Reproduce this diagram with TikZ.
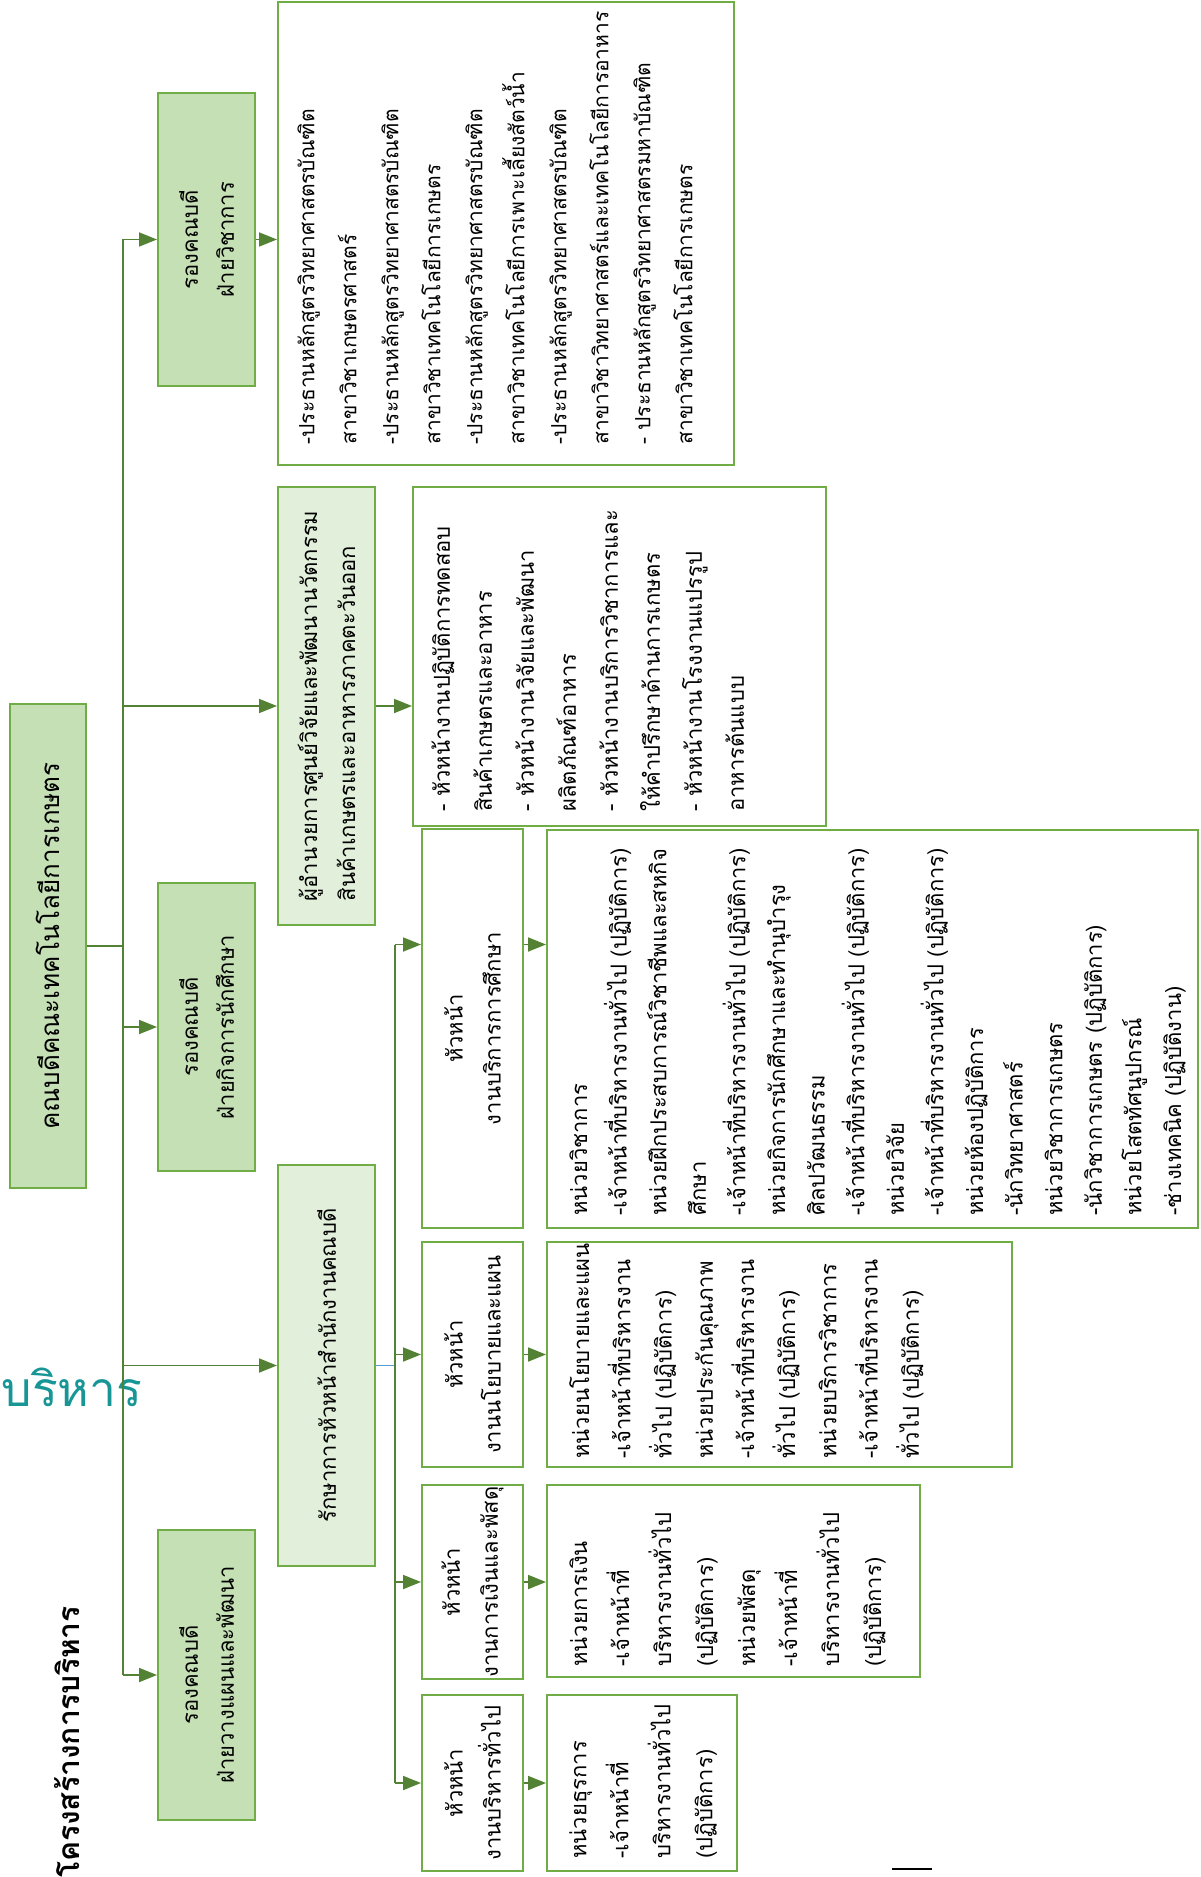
\documentclass[tikz,border=0pt]{standalone}
\usepackage{fontspec}
\setmainfont[Script=Thai]{Loma}
\usetikzlibrary{arrows.meta}
\definecolor{vert}{RGB}{112,173,71}
\definecolor{vertfonce}{RGB}{84,130,53}
\definecolor{fond}{RGB}{197,224,180}
\definecolor{fondclair}{RGB}{226,239,218}
\definecolor{sarcelle}{RGB}{24,150,150}
\definecolor{bleu}{RGB}{91,155,213}
\begin{document}
\begin{tikzpicture}[x=0.5pt,y=-0.5pt]
  \tikzstyle{cadre}=[draw=vert,line width=1pt,rotate=90,inner sep=0pt,align=center,font=\fontsize{11}{18}\selectfont]
  \tikzstyle{chef}=[cadre,fill=fond]
  \tikzstyle{bureau}=[cadre,fill=fondclair,align=left]
  \tikzstyle{liste}=[cadre,fill=white]
  \tikzstyle{texte}=[rotate=90,anchor=north west,inner sep=0pt,align=left,font=\fontsize{11}{21}\selectfont]
  \tikzstyle{trait}=[draw=vertfonce,line width=0.9pt]
  \tikzstyle{fleche}=[trait,-{Triangle[length=9pt,width=7pt]}]
  \useasboundingbox (0,0) rectangle (1200,1877);

  % titres
  \node[rotate=90,inner sep=0pt,font=\bfseries\fontsize{15}{18}\selectfont] (titre) at (67,1742) {โครงสร้างการบริหาร};
  \node[inner sep=0pt,text=sarcelle,font=\fontsize{24}{30}\selectfont] (mot) at (72,1387) {บริหาร};

  % doyen et vice-doyens
  \node[chef,minimum width=242pt,minimum height=38pt,font=\fontsize{13}{18}\selectfont] (doyen) at (48,946) {คณบดีคณะเทคโนโลยีการเกษตร};
  \node[chef,minimum width=146.5pt,minimum height=48.5pt] (vdAcad) at (206.5,239.5) {รองคณบดี\\ฝ่ายวิชาการ};
  \node[chef,minimum width=144pt,minimum height=48.5pt] (vdEtud) at (206.5,1027) {รองคณบดี\\ฝ่ายกิจการนักศึกษา};
  \node[chef,minimum width=145pt,minimum height=48.5pt] (vdPlan) at (206.5,1675) {รองคณบดี\\ฝ่ายวางแผนและพัฒนา};
  \node[bureau,minimum width=219pt,minimum height=48.5pt,font=\fontsize{11}{19}\selectfont] (centre) at (326.5,706) {ผู้อำนวยการศูนย์วิจัยและพัฒนานวัตกรรม\\สินค้าเกษตรและอาหารภาคตะวันออก};
  \node[bureau,minimum width=200.5pt,minimum height=48.5pt] (bureau) at (326.5,1365.5) {รักษาการหัวหน้าสำนักงานคณบดี};

  % chefs de service
  \node[liste,minimum width=199.5pt,minimum height=50.5pt,font=\fontsize{11}{19}\selectfont] (chefEdu) at (472.5,1028.5) {หัวหน้า\\งานบริการการศึกษา};
  \node[liste,minimum width=112.5pt,minimum height=50.5pt,font=\fontsize{11}{19}\selectfont] (chefPol) at (472.5,1354.5) {หัวหน้า\\งานนโยบายและแผน};
  \node[liste,minimum width=97pt,minimum height=50.5pt,font=\fontsize{11}{19}\selectfont] (chefFin) at (472.5,1582) {หัวหน้า\\งานการเงินและพัสดุ};
  \node[liste,minimum width=88pt,minimum height=50.5pt,font=\fontsize{11}{19}\selectfont] (chefGen) at (472.5,1783) {หัวหน้า\\งานบริหารทั่วไป};

  % listes
  \node[liste,minimum width=231.5pt,minimum height=228pt] (lAcad) at (506,233.5) {};
  \node[liste,minimum width=169.5pt,minimum height=206.5pt] (lCentre) at (619.5,656.5) {};
  \node[liste,minimum width=199pt,minimum height=325.5pt] (lEdu) at (872.5,1029) {};
  \node[liste,minimum width=112.5pt,minimum height=232.5pt] (lPol) at (779.5,1354.5) {};
  \node[liste,minimum width=96pt,minimum height=186.5pt] (lFin) at (733.5,1581) {};
  \node[liste,minimum width=88pt,minimum height=95pt] (lGen) at (642,1783) {};

  \node[texte,font=\fontsize{10.5}{21}\selectfont] (tAcad) at (297,445) {-ประธานหลักสูตรวิทยาศาสตรบัณฑิต\\สาขาวิชาเกษตรศาสตร์\\-ประธานหลักสูตรวิทยาศาสตรบัณฑิต\\สาขาวิชาเทคโนโลยีการเกษตร\\-ประธานหลักสูตรวิทยาศาสตรบัณฑิต\\สาขาวิชาเทคโนโลยีการเพาะเลี้ยงสัตว์น้ำ\\-ประธานหลักสูตรวิทยาศาสตรบัณฑิต\\สาขาวิชาวิทยาศาสตร์และเทคโนโลยีการอาหาร\\- ประธานหลักสูตรวิทยาศาสตรมหาบัณฑิต\\สาขาวิชาเทคโนโลยีการเกษตร};
  \node[texte] (tCentre) at (431,812) {- หัวหน้างานปฏิบัติการทดสอบ\\สินค้าเกษตรและอาหาร\\- หัวหน้างานวิจัยและพัฒนา\\ผลิตภัณฑ์อาหาร\\- หัวหน้างานบริการวิชาการและ\\ให้คำปรึกษาด้านการเกษตร\\- หัวหน้างานโรงงานแปรรูป\\อาหารต้นแบบ};
  \node[texte,font=\fontsize{11}{19.8}\selectfont] (tEdu) at (569,1216) {หน่วยวิชาการ\\-เจ้าหน้าที่บริหารงานทั่วไป (ปฏิบัติการ)\\หน่วยฝึกประสบการณ์วิชาชีพและสหกิจ\\ศึกษา\\-เจ้าหน้าที่บริหารงานทั่วไป (ปฏิบัติการ)\\หน่วยกิจการนักศึกษาและทำนุบำรุง\\ศิลปวัฒนธรรม\\-เจ้าหน้าที่บริหารงานทั่วไป (ปฏิบัติการ)\\หน่วยวิจัย\\-เจ้าหน้าที่บริหารงานทั่วไป (ปฏิบัติการ)\\หน่วยห้องปฏิบัติการ\\-นักวิทยาศาสตร์\\หน่วยวิชาการเกษตร\\-นักวิชาการเกษตร (ปฏิบัติการ)\\หน่วยโสตทัศนูปกรณ์\\-ช่างเทคนิค (ปฏิบัติงาน)};
  \node[texte,font=\fontsize{11}{20.6}\selectfont] (tPol) at (569,1459) {หน่วยนโยบายและแผน\\-เจ้าหน้าที่บริหารงาน\\ทั่วไป (ปฏิบัติการ)\\หน่วยประกันคุณภาพ\\-เจ้าหน้าที่บริหารงาน\\ทั่วไป (ปฏิบัติการ)\\หน่วยบริการวิชาการ\\-เจ้าหน้าที่บริหารงาน\\ทั่วไป (ปฏิบัติการ)};
  \node[texte] (tFin) at (569,1667) {หน่วยการเงิน\\-เจ้าหน้าที่\\บริหารงานทั่วไป\\(ปฏิบัติการ)\\หน่วยพัสดุ\\-เจ้าหน้าที่\\บริหารงานทั่วไป\\(ปฏิบัติการ)};
  \node[texte] (tGen) at (569,1859) {หน่วยธุรการ\\-เจ้าหน้าที่\\บริหารงานทั่วไป\\(ปฏิบัติการ)};

  % liaisons
  \coordinate (tk) at (123,0);
  \coordinate (tk2) at (395,0);
  \coordinate (eduIn) at ([yshift=42pt]chefEdu.north);
  \coordinate (eduOut) at ([yshift=42pt]chefEdu.south);
  \draw[trait] (doyen.south) -- (doyen.south -| tk);
  \draw[trait] (vdAcad.north -| tk) -- (vdPlan.north -| tk);
  \draw[fleche] (vdAcad.north -| tk) -- (vdAcad.north);
  \draw[fleche] (centre.north -| tk) -- (centre.north);
  \draw[fleche] (vdEtud.north -| tk) -- (vdEtud.north);
  \draw[fleche] (bureau.north -| tk) -- (bureau.north);
  \draw[fleche] (vdPlan.north -| tk) -- (vdPlan.north);
  \draw[fleche] (vdAcad.south) -- (vdAcad.south -| lAcad.north);
  \draw[fleche] (centre.south) -- (centre.south -| lCentre.north);
  \draw[draw=bleu,line width=0.6pt] (bureau.south) -- (bureau.south -| tk2);
  \draw[trait] (eduIn -| tk2) -- (chefGen.north -| tk2);
  \draw[fleche] (eduIn -| tk2) -- (eduIn);
  \draw[fleche] (chefPol.north -| tk2) -- (chefPol.north);
  \draw[fleche] (chefFin.north -| tk2) -- (chefFin.north);
  \draw[fleche] (chefGen.north -| tk2) -- (chefGen.north);
  \draw[fleche] (eduOut) -- (eduOut -| lEdu.north);
  \draw[fleche] (chefPol.south) -- (chefPol.south -| lPol.north);
  \draw[fleche] (chefFin.south) -- (chefFin.south -| lFin.north);
  \draw[fleche] (chefGen.south) -- (chefGen.south -| lGen.north);
  \draw[line width=0.6pt] (892,1869) -- (932,1869);
\end{tikzpicture}
\end{document}
